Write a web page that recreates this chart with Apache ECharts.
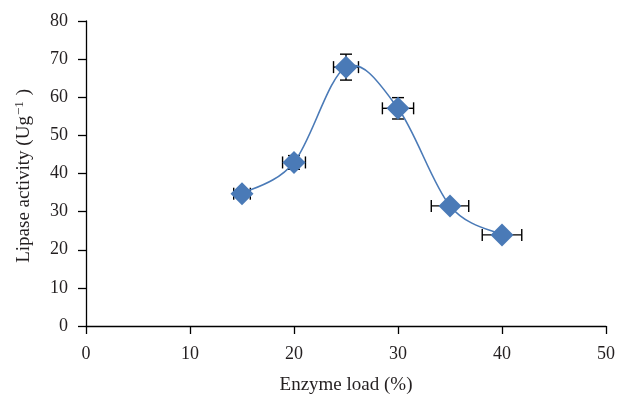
<!DOCTYPE html>
<html>
<head>
<meta charset="utf-8">
<script src="https://cdn.jsdelivr.net/npm/echarts@6/dist/echarts.min.js"></script>
<style>
html,body{margin:0;padding:0;background:#fff;}
#chart{width:619px;height:400px;}
</style>
</head>
<body>
<div id="chart"></div>
<script>
// Data
var enzymeLoad = [15, 20, 25, 30, 35, 40];
var lipaseActivity = [34.7, 42.9, 67.9, 57.1, 31.5, 23.9];
var yError = [0.4, 1.8, 3.4, 2.8, 0.4, 0.3];
var xError = [0.8, 1.1, 1.2, 1.5, 1.8, 1.9];
var xTicks = [0, 10, 20, 30, 40, 50];
var yTicks = [0, 10, 20, 30, 40, 50, 60, 70, 80];

var FONT = 'Liberation Serif';
var BLUE = '#4a7ab7';

var pts = enzymeLoad.map(function (x, i) { return [x, lipaseActivity[i]]; });
var errData = enzymeLoad.map(function (x, i) {
  return [x, lipaseActivity[i], xError[i], yError[i]];
});

var chart = echarts.init(document.getElementById('chart'), null, {renderer: 'canvas'});

function errRender(params, api) {
  var x = api.value(0), y = api.value(1), ex = api.value(2), ey = api.value(3);
  var c = api.coord([x, y]);
  var l = api.coord([x - ex, y]);
  var r = api.coord([x + ex, y]);
  var t = api.coord([x, y + ey]);
  var b = api.coord([x, y - ey]);
  var cap = 6;
  var st = {stroke: '#000', lineWidth: 1.4};
  return {
    type: 'group',
    children: [
      {type: 'line', shape: {x1: l[0], y1: c[1], x2: r[0], y2: c[1]}, style: st},
      {type: 'line', shape: {x1: l[0], y1: c[1] - cap, x2: l[0], y2: c[1] + cap}, style: st},
      {type: 'line', shape: {x1: r[0], y1: c[1] - cap, x2: r[0], y2: c[1] + cap}, style: st},
      {type: 'line', shape: {x1: c[0], y1: t[1], x2: c[0], y2: b[1]}, style: st},
      {type: 'line', shape: {x1: c[0] - cap, y1: t[1], x2: c[0] + cap, y2: t[1]}, style: st},
      {type: 'line', shape: {x1: c[0] - cap, y1: b[1], x2: c[0] + cap, y2: b[1]}, style: st}
    ]
  };
}

// Smoothed curve (Catmull-Rom style, as in spreadsheet "smoothed line" charts)
function curveRender(params, api) {
  var i = params.dataIndex;
  var n = pts.length;
  if (i >= n - 1) return {type: 'group', children: []};
  var p0 = api.coord(pts[Math.max(i - 1, 0)]);
  var p1 = api.coord(pts[i]);
  var p2 = api.coord(pts[i + 1]);
  var p3 = api.coord(pts[Math.min(i + 2, n - 1)]);
  var k = 1 / 6;
  return {
    type: 'bezierCurve',
    shape: {
      x1: p1[0], y1: p1[1], x2: p2[0], y2: p2[1],
      cpx1: p1[0] + (p2[0] - p0[0]) * k, cpy1: p1[1] + (p2[1] - p0[1]) * k,
      cpx2: p2[0] - (p3[0] - p1[0]) * k, cpy2: p2[1] - (p3[1] - p1[1]) * k
    },
    style: {stroke: BLUE, lineWidth: 1.6, fill: null}
  };
}

var axisLabelStyle = {color: '#231f20', fontFamily: FONT, fontSize: 18};

chart.setOption({
  animation: false,
  backgroundColor: '#fff',
  grid: {left: 86, right: 13, top: 21, bottom: 69, containLabel: false},
  xAxis: {
    type: 'value',
    min: xTicks[0], max: xTicks[xTicks.length - 1], interval: 10,
    name: 'Enzyme load (%)',
    nameLocation: 'middle',
    nameGap: 50,
    nameTextStyle: {color: '#231f20', fontFamily: FONT, fontSize: 19},
    axisLine: {show: true, onZero: false, lineStyle: {color: '#000', width: 1.3}},
    axisTick: {show: true, inside: false, length: 8, lineStyle: {color: '#000', width: 1.3}},
    axisLabel: Object.assign({margin: 19}, axisLabelStyle),
    splitLine: {show: false}
  },
  yAxis: {
    type: 'value',
    min: yTicks[0], max: yTicks[yTicks.length - 1], interval: 10,
    name: 'Lipase activity (Ug{sup|−1}) ',
    nameLocation: 'middle',
    nameGap: 48,
    nameRotate: 90,
    nameTextStyle: {
      color: '#231f20', fontFamily: FONT, fontSize: 19,
      rich: {sup: {fontFamily: FONT, fontSize: 13, color: '#231f20', verticalAlign: 'bottom', lineHeight: 28, padding: [0, 6, 12, 1]}}
    },
    axisLine: {show: true, onZero: false, lineStyle: {color: '#000', width: 1.3}},
    axisTick: {show: true, inside: false, length: 8, lineStyle: {color: '#000', width: 1.3}},
    axisLabel: Object.assign({margin: 18}, axisLabelStyle),
    splitLine: {show: false}
  },
  series: [
    {
      type: 'custom',
      renderItem: errRender,
      data: errData,
      z: 1,
      silent: true
    },
    {
      type: 'custom',
      renderItem: curveRender,
      data: pts,
      z: 2,
      silent: true
    },
    {
      type: 'scatter',
      data: pts,
      symbol: 'diamond',
      symbolSize: 23,
      itemStyle: {color: BLUE, opacity: 1},
      z: 3
    }
  ]
});
</script>
</body>
</html>
